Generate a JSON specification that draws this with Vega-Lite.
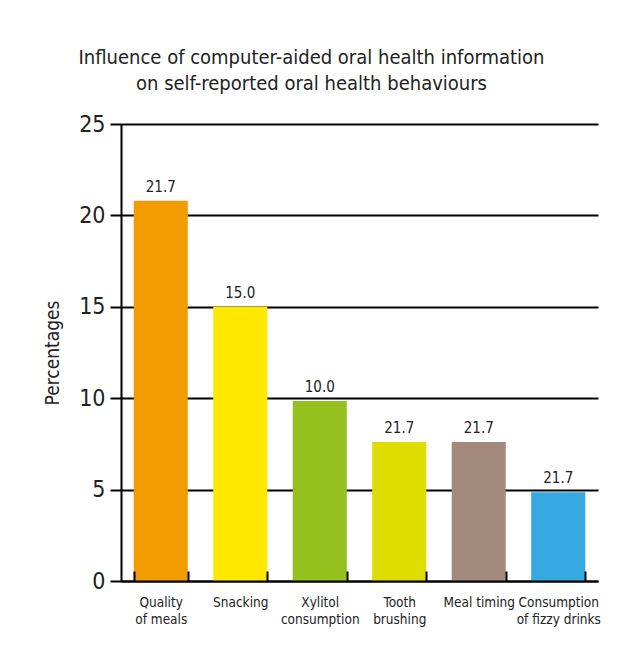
{
  "$schema": "https://vega.github.io/schema/vega-lite/v6.json",
  "width": 477,
  "height": 457,
  "autosize": {"type": "none"},
  "padding": {"left": 121, "top": 124, "right": 34, "bottom": 74},
  "background": "white",
  "config": {
    "font": "DejaVu Sans Condensed, sans-serif",
    "view": {"stroke": null}
  },
  "title": {
    "text": ["Influence of computer-aided oral health information", "on self-reported oral health behaviours"],
    "fontSize": 20,
    "fontWeight": "normal",
    "color": "#222222",
    "anchor": "middle",
    "dx": -48,
    "lineHeight": 26,
    "offset": 19
  },
  "data": {
    "values": [
      {"behaviour": "Quality|of meals", "value": 20.8, "label": "21.7", "color": "#F39C00"},
      {"behaviour": "Snacking", "value": 15.0, "label": "15.0", "color": "#FFE800"},
      {"behaviour": "Xylitol|consumption", "value": 9.85, "label": "10.0", "color": "#95C11F"},
      {"behaviour": "Tooth|brushing", "value": 7.6, "label": "21.7", "color": "#DEDC00"},
      {"behaviour": "Meal timing", "value": 7.6, "label": "21.7", "color": "#A38A7A"},
      {"behaviour": "Consumption|of fizzy drinks", "value": 4.85, "label": "21.7", "color": "#36A9E1"}
    ]
  },
  "encoding": {
    "x": {
      "field": "behaviour",
      "type": "nominal",
      "sort": null,
      "scale": {"paddingInner": 0.32, "paddingOuter": 0.16},
      "axis": {
        "title": null,
        "labelAngle": 0,
        "labelExpr": "split(datum.label, '|')",
        "labelFontSize": 13.5,
        "labelColor": "#222222",
        "labelLineHeight": 17,
        "labelPadding": 24,
        "ticks": true,
        "tickBand": "extent",
        "tickSize": -10,
        "tickWidth": 2,
        "tickColor": "black",
        "tickOpacity": 1,
        "domainColor": "black",
        "domainWidth": 2,
        "grid": false,
        "zindex": 1
      }
    },
    "y": {
      "field": "value",
      "type": "quantitative",
      "scale": {"domain": [0, 25], "nice": false},
      "axis": {
        "title": "Percentages",
        "titleFontSize": 19,
        "titleFontWeight": "normal",
        "titleColor": "#222222",
        "titlePadding": 16,
        "values": [0, 5, 10, 15, 20, 25],
        "labelFontSize": 23,
        "labelColor": "#222222",
        "labelPadding": 5,
        "tickSize": 11,
        "tickWidth": 2,
        "tickColor": "black",
        "domainColor": "black",
        "domainWidth": 2,
        "grid": true,
        "gridColor": "black",
        "gridWidth": 2,
        "gridOpacity": 1
      }
    }
  },
  "layer": [
    {
      "mark": {"type": "bar"},
      "encoding": {
        "color": {"field": "color", "type": "nominal", "scale": null}
      }
    },
    {
      "mark": {"type": "text", "dy": -6, "fontSize": 15, "color": "#222222", "baseline": "bottom"},
      "encoding": {
        "text": {"field": "label", "type": "nominal"}
      }
    }
  ]
}
